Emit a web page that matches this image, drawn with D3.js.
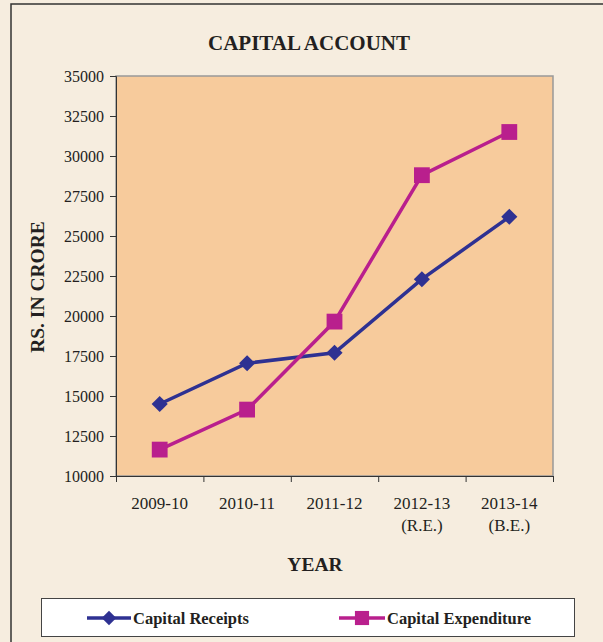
<!DOCTYPE html>
<html lang="en">
<head>
  <meta charset="UTF-8">
  <title>Capital Account</title>
  <script src="https://cdn.jsdelivr.net/npm/d3@7"></script>
  <style>
    html, body { margin: 0; padding: 0; }
    body { background: #f5ecdc; font-family: "Liberation Serif", "Times New Roman", serif; }
    svg text { fill: #231f20; }
  </style>
</head>
<body>
<script>
  // data
  const years = ["2009-10", "2010-11", "2011-12", "2012-13", "2013-14"];
  const yearNotes = ["", "", "", "(R.E.)", "(B.E.)"];
  const receipts = [14500, 17050, 17700, 22300, 26200];
  const expenditure = [11650, 14150, 19650, 28800, 31500];
  const yTicks = [10000, 12500, 15000, 17500, 20000, 22500, 25000, 27500, 30000, 32500, 35000];

  const w = 603, h = 642;
  const plot = { left: 116, right: 553, top: 76, bottom: 476 };

  const svg = d3.select("body").append("svg")
    .attr("width", w)
    .attr("height", h);

  svg.append("rect")
    .attr("width", w).attr("height", h)
    .attr("fill", "#f6eddf");

  // outer frame
  svg.append("path")
    .attr("d", `M11,${h} L11,4 L${w},4`)
    .attr("fill", "none")
    .attr("stroke", "#333")
    .attr("stroke-width", 1.5);

  const xScale = d3.scaleBand()
    .domain(years)
    .range([plot.left, plot.right]);

  const yScale = d3.scaleLinear()
    .domain([10000, 35000])
    .range([plot.bottom, plot.top]);

  svg.append("rect")
    .attr("x", plot.left).attr("y", plot.top)
    .attr("width", plot.right - plot.left)
    .attr("height", plot.bottom - plot.top)
    .attr("fill", "#f7cb9c")
    .attr("stroke", "#999")
    .attr("stroke-width", 1.5);

  svg.append("text")
    .attr("x", 309).attr("y", 50)
    .attr("text-anchor", "middle")
    .attr("font-size", 21).attr("font-weight", "bold")
    .text("CAPITAL ACCOUNT");

  const yAxis = d3.axisLeft(yScale).tickValues(yTicks).tickSize(6).tickPadding(6).tickFormat(d => d);
  const gy = svg.append("g")
    .attr("transform", `translate(${plot.left},0)`)
    .call(yAxis);
  gy.select(".domain").attr("stroke", "#333");
  gy.selectAll(".tick line").attr("stroke", "#333");
  gy.selectAll(".tick text")
    .attr("font-family", "Liberation Serif, serif")
    .attr("font-size", 16).attr("fill", "#231f20");

  const xTickScale = d3.scaleLinear().domain([0, years.length]).range([plot.left, plot.right]);
  const gx = svg.append("g")
    .attr("transform", `translate(0,${plot.bottom})`)
    .call(d3.axisBottom(xTickScale).ticks(years.length).tickSize(6).tickFormat(""));
  gx.select(".domain").attr("stroke", "#333");
  gx.selectAll(".tick line").attr("stroke", "#333");

  const labels = svg.append("g").selectAll("text")
    .data(years)
    .join("text")
    .attr("x", d => xScale(d) + xScale.bandwidth() / 2)
    .attr("y", 509)
    .attr("text-anchor", "middle")
    .attr("font-size", 17);
  labels.append("tspan").text(d => d);
  labels.append("tspan")
    .attr("x", d => xScale(d) + xScale.bandwidth() / 2)
    .attr("dy", 22)
    .text((d, i) => yearNotes[i]);

  svg.append("text")
    .attr("x", 315).attr("y", 571)
    .attr("text-anchor", "middle")
    .attr("font-size", 19.5).attr("font-weight", "bold")
    .text("YEAR");

  svg.append("text")
    .attr("transform", `translate(44,287) rotate(-90)`)
    .attr("text-anchor", "middle")
    .attr("font-size", 19.5).attr("font-weight", "bold")
    .text("RS. IN CRORE");

  // diamond = square turned 45 degrees
  const series = [
    { name: "Capital Receipts", values: receipts, color: "#2e3192", symbol: d3.symbolSquare, size: 130, rot: 45 },
    { name: "Capital Expenditure", values: expenditure, color: "#b91f8d", symbol: d3.symbolSquare, size: 250, rot: 0 }
  ];

  const line = d3.line()
    .x((d, i) => xScale(years[i]) + xScale.bandwidth() / 2)
    .y(d => yScale(d));

  series.forEach(s => {
    svg.append("path")
      .datum(s.values)
      .attr("d", line)
      .attr("fill", "none")
      .attr("stroke", s.color)
      .attr("stroke-width", 3.5);
    svg.append("g").selectAll("path")
      .data(s.values)
      .join("path")
      .attr("d", d3.symbol().type(s.symbol).size(s.size))
      .attr("transform", (d, i) => `translate(${xScale(years[i]) + xScale.bandwidth() / 2},${yScale(d)}) rotate(${s.rot})`)
      .attr("fill", s.color);
  });

  // legend
  svg.append("rect")
    .attr("x", 41.5).attr("y", 598.5)
    .attr("width", 533).attr("height", 38)
    .attr("fill", "#fff")
    .attr("stroke", "#444");

  const legendPos = [{ x1: 87, x2: 131, tx: 133 }, { x1: 339, x2: 385, tx: 387 }];
  series.forEach((s, i) => {
    const p = legendPos[i];
    const ly = 618;
    svg.append("line")
      .attr("x1", p.x1).attr("x2", p.x2)
      .attr("y1", ly).attr("y2", ly)
      .attr("stroke", s.color).attr("stroke-width", 3.5);
    svg.append("path")
      .attr("d", d3.symbol().type(s.symbol).size(s.size * 0.8))
      .attr("transform", `translate(${(p.x1 + p.x2) / 2},${ly}) rotate(${s.rot})`)
      .attr("fill", s.color);
    svg.append("text")
      .attr("x", p.tx).attr("y", ly + 5.5)
      .attr("font-size", 16.5).attr("font-weight", "bold")
      .text(s.name);
  });
</script>
</body>
</html>
